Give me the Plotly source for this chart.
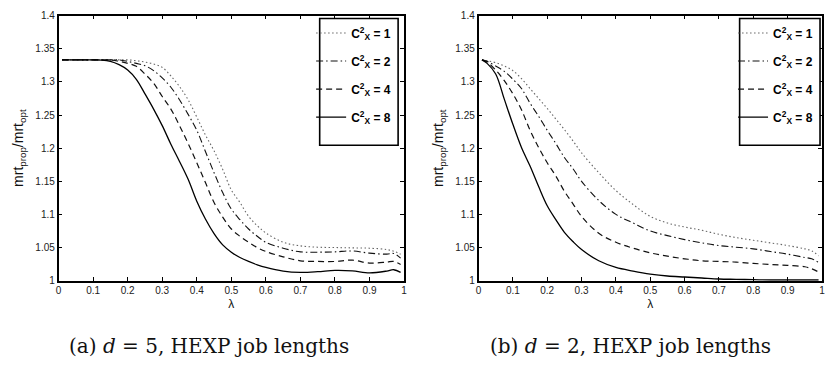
import plotly.graph_objects as go

# ---------------- data ----------------
lam_a = [0.01, 0.05, 0.1, 0.125, 0.15, 0.175, 0.2, 0.225, 0.25, 0.275, 0.3, 0.325, 0.35, 0.375,
         0.4, 0.425, 0.45, 0.475, 0.5, 0.525, 0.55, 0.575, 0.6, 0.65, 0.7, 0.75, 0.8, 0.85,
         0.9, 0.95, 0.97, 0.99]
a_c1 = [1.3333, 1.3333, 1.3333, 1.3333, 1.3333, 1.3333, 1.3333, 1.332, 1.330, 1.327, 1.322, 1.309,
        1.293, 1.273, 1.247, 1.220, 1.196, 1.168, 1.137, 1.118, 1.097, 1.083, 1.072, 1.058,
        1.0525, 1.0505, 1.050, 1.0495, 1.049, 1.047, 1.0445, 1.040]
a_c2 = [1.3333, 1.3333, 1.3333, 1.3333, 1.3333, 1.3333, 1.331, 1.328, 1.3245, 1.317, 1.306, 1.292,
        1.273, 1.251, 1.227, 1.195, 1.163, 1.133, 1.108, 1.092, 1.078, 1.067, 1.058, 1.049,
        1.0435, 1.043, 1.0435, 1.0448, 1.0415, 1.040, 1.041, 1.034]
a_c4 = [1.3333, 1.3333, 1.3333, 1.3333, 1.3333, 1.331, 1.328, 1.3235, 1.312, 1.298, 1.278, 1.259,
        1.234, 1.207, 1.178, 1.148, 1.118, 1.096, 1.078, 1.067, 1.058, 1.050, 1.044, 1.036,
        1.030, 1.029, 1.029, 1.031, 1.0265, 1.028, 1.029, 1.0245]
a_c8 = [1.3333, 1.3333, 1.3333, 1.333, 1.331, 1.326, 1.318, 1.304, 1.282, 1.259, 1.234, 1.206,
        1.180, 1.153, 1.120, 1.093, 1.071, 1.054, 1.043, 1.035, 1.029, 1.024, 1.020, 1.0145,
        1.0125, 1.0135, 1.0155, 1.0148, 1.0118, 1.0145, 1.0165, 1.0125]

lam_b = [0.01, 0.025, 0.05, 0.075, 0.1, 0.125, 0.15, 0.175, 0.2, 0.225, 0.25, 0.275, 0.3, 0.35,
         0.4, 0.45, 0.5, 0.55, 0.6, 0.65, 0.7, 0.75, 0.8, 0.85, 0.9, 0.95, 0.97, 0.99]
b_c1 = [1.3333, 1.332, 1.329, 1.324, 1.317, 1.305, 1.290, 1.275, 1.260, 1.244, 1.228, 1.211, 1.193,
        1.163, 1.136, 1.115, 1.097, 1.087, 1.081, 1.076, 1.070, 1.065, 1.061, 1.057, 1.053,
        1.048, 1.045, 1.0375]
b_c2 = [1.3333, 1.331, 1.324, 1.316, 1.304, 1.290, 1.268, 1.248, 1.227, 1.207, 1.186, 1.169, 1.150,
        1.121, 1.100, 1.087, 1.075, 1.068, 1.062, 1.057, 1.053, 1.0505, 1.048, 1.044, 1.040,
        1.035, 1.033, 1.0275]
b_c4 = [1.3333, 1.330, 1.318, 1.302, 1.282, 1.258, 1.227, 1.201, 1.178, 1.158, 1.135, 1.116, 1.097,
        1.0715, 1.058, 1.049, 1.042, 1.037, 1.033, 1.030, 1.029, 1.028, 1.026, 1.0245, 1.023,
        1.021, 1.018, 1.013]
b_c8 = [1.3333, 1.328, 1.312, 1.274, 1.236, 1.201, 1.173, 1.142, 1.113, 1.092, 1.073, 1.059, 1.047,
        1.030, 1.020, 1.0145, 1.010, 1.007, 1.0055, 1.004, 1.0025, 1.002, 1.0015, 1.001, 1.001,
        1.001, 1.001, 1.001]

series_names = ["<b>C<sup>2</sup><sub>X</sub> = 1</b>", "<b>C<sup>2</sup><sub>X</sub> = 2</b>",
                "<b>C<sup>2</sup><sub>X</sub> = 4</b>", "<b>C<sup>2</sup><sub>X</sub> = 8</b>"]
captions = ["(a) <i>d</i> = 5, HEXP job lengths", "(b) <i>d</i> = 2, HEXP job lengths"]
y_title = "mrt<sub>prop</sub>/mrt<sub>opt</sub>"
x_title = "λ"

# ---------------- styles ----------------
styles = [
    dict(color="#666666", width=1.1, dash="1.5px,2.5px"),
    dict(color="#111111", width=1.1, dash="7px,3px,1.5px,3px"),
    dict(color="#111111", width=1.2, dash="6px,4px"),
    dict(color="#000000", width=1.3, dash="solid"),
]

fig = go.Figure()

for panel, (lam, ys) in enumerate([(lam_a, [a_c1, a_c2, a_c4, a_c8]),
                                    (lam_b, [b_c1, b_c2, b_c4, b_c8])]):
    xa = "x" if panel == 0 else "x2"
    ya = "y" if panel == 0 else "y2"
    lg = "legend" if panel == 0 else "legend2"
    for i, (name, yv) in enumerate(zip(series_names, ys)):
        fig.add_trace(go.Scatter(
            x=lam, y=yv, mode="lines", name=name, line=styles[i],
            line_shape="spline", xaxis=xa, yaxis=ya, legend=lg,
            legendgroup=f"p{panel}g{i}", showlegend=True))

W, H = 827, 365
def px_x(p):
    return p / W
def px_y(p):
    return 1 - p / H

tickfont = dict(family="Liberation Sans, Arial, sans-serif", size=10, color="#222222")
axis_common = dict(showline=True, linecolor="black", linewidth=1.5, mirror="ticks",
                   ticks="inside", ticklen=4, tickwidth=1, tickcolor="black",
                   showgrid=False, zeroline=False, tickfont=tickfont)

ydom = [px_y(284), px_y(10)]
legend_common = dict(xanchor="right", yanchor="top", bgcolor="rgba(0,0,0,0)", borderwidth=0,
                     font=dict(family="Liberation Sans, Arial", size=12, color="black"),
                     tracegroupgap=9, itemwidth=30)
fig.update_layout(
    width=W, height=H, margin=dict(l=0, r=0, t=0, b=0),
    paper_bgcolor="white", plot_bgcolor="white",
    xaxis=dict(domain=[px_x(56), px_x(404)], range=[0, 1], dtick=0.1, anchor="y",
               title=dict(text=x_title, font=dict(family="Liberation Sans, Arial", size=12, color="#111"), standoff=4),
               **axis_common),
    yaxis=dict(domain=ydom, range=[1, 1.4], dtick=0.05, anchor="x",
               title=dict(text=y_title, font=dict(family="Liberation Sans, Arial", size=14, color="#111"), standoff=8),
               **axis_common),
    xaxis2=dict(domain=[px_x(479), px_x(825)], range=[0, 1], dtick=0.1, anchor="y2",
                title=dict(text=x_title, font=dict(family="Liberation Sans, Arial", size=12, color="#111"), standoff=4),
                **axis_common),
    yaxis2=dict(domain=ydom, range=[1, 1.4], dtick=0.05, anchor="x2",
                title=dict(text=y_title, font=dict(family="Liberation Sans, Arial", size=14, color="#111"), standoff=8),
                **axis_common),
    legend=dict(x=px_x(396), y=px_y(13), **legend_common),
    legend2=dict(x=px_x(821), y=px_y(13), **legend_common),
)

# legend frames
for x0, x1 in [(319, 398), (742, 823)]:
    fig.add_shape(type="rect", xref="paper", yref="paper",
                  x0=px_x(x0), x1=px_x(x1), y0=px_y(144), y1=px_y(13),
                  line=dict(color="black", width=1.6), fillcolor="white", layer="above")

for cx, txt in zip([208, 632], captions):
    fig.add_annotation(text=txt, xref="paper", yref="paper", x=px_x(cx), y=px_y(352),
                       xanchor="center", yanchor="middle", showarrow=False,
                       font=dict(family="DejaVu Serif, serif", size=20, color="#111"))

fig.write_html("out.html")
